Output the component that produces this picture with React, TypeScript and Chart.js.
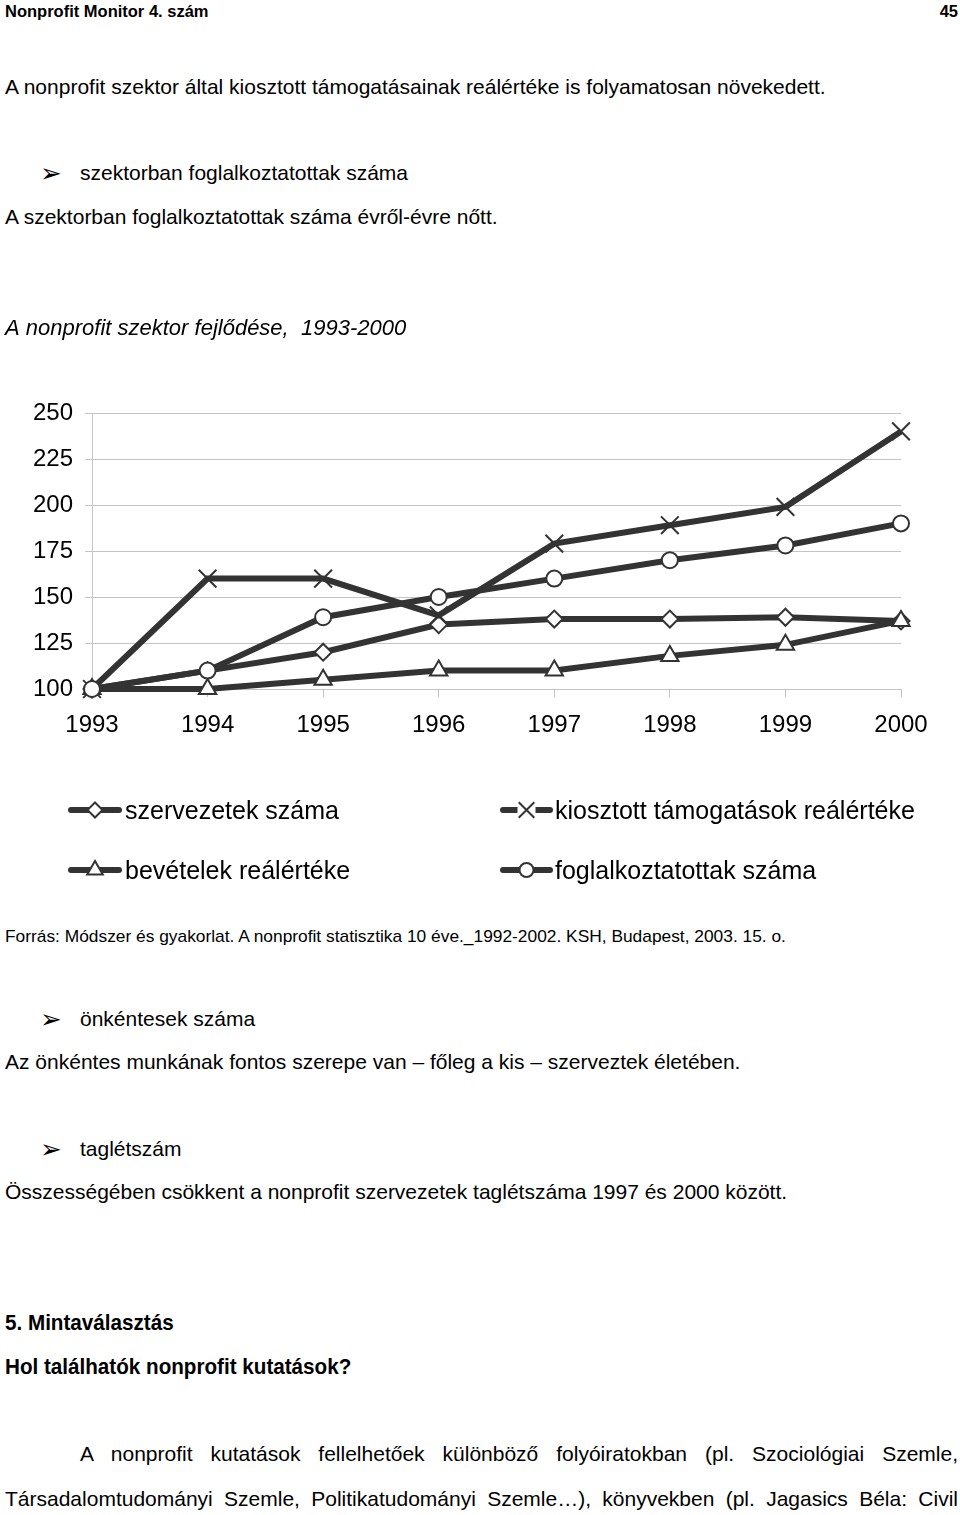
import React, { useEffect, useRef } from 'react';
import { Chart, registerables } from 'chart.js';

Chart.register(...registerables);

// ---- data ----
const years = ['1993', '1994', '1995', '1996', '1997', '1998', '1999', '2000'];
const szervezetek = [100, 110, 120, 135, 138, 138, 139, 137];
const kiosztott = [100, 160, 160, 140, 179, 189, 199, 240];
const bevetelek = [100, 100, 105, 110, 110, 118, 124, 137];
const foglalkoztatottak = [100, 110, 139, 150, 160, 170, 178, 190];
const seriesLabels = ['szervezetek száma', 'kiosztott támogatások reálértéke', 'bevételek reálértéke', 'foglalkoztatottak száma'];
const yMin = 100;
const yMax = 250;
const yStep = 25;

const FONT = "'Liberation Sans', Arial, Helvetica, sans-serif";
const INK = '#333333';
const GRID = '#c4c4c4';
const CANVAS_TOP = 300;

type MarkerStyle = 'rectRot' | 'crossRot' | 'triangle' | 'circle';

function drawMarker(ctx: CanvasRenderingContext2D, style: MarkerStyle, x: number, y: number, r: number) {
  ctx.save();
  ctx.lineWidth = 2;
  ctx.strokeStyle = INK;
  ctx.fillStyle = '#ffffff';
  ctx.beginPath();
  if (style === 'rectRot') {
    ctx.moveTo(x, y - r);
    ctx.lineTo(x + r, y);
    ctx.lineTo(x, y + r);
    ctx.lineTo(x - r, y);
    ctx.closePath();
    ctx.fill();
    ctx.stroke();
  } else if (style === 'triangle') {
    ctx.moveTo(x, y - r);
    ctx.lineTo(x + r * 0.866, y + r * 0.5);
    ctx.lineTo(x - r * 0.866, y + r * 0.5);
    ctx.closePath();
    ctx.fill();
    ctx.stroke();
  } else if (style === 'circle') {
    ctx.arc(x, y, r, 0, Math.PI * 2);
    ctx.fill();
    ctx.stroke();
  } else {
    const d = r * Math.SQRT1_2;
    ctx.moveTo(x - d, y - d);
    ctx.lineTo(x + d, y + d);
    ctx.moveTo(x + d, y - d);
    ctx.lineTo(x - d, y + d);
    ctx.stroke();
  }
  ctx.restore();
}

const legendItems: { label: string; style: MarkerStyle; r: number; x1: number; x2: number; y: number; tx: number }[] = [
  { label: seriesLabels[0], style: 'rectRot', r: 7.5, x1: 71, x2: 119, y: 810, tx: 125 },
  { label: seriesLabels[1], style: 'crossRot', r: 11, x1: 503, x2: 550, y: 810, tx: 555 },
  { label: seriesLabels[2], style: 'triangle', r: 9, x1: 71, x2: 119, y: 870, tx: 125 },
  { label: seriesLabels[3], style: 'circle', r: 7, x1: 503, x2: 550, y: 870, tx: 555 },
];

const legendPlugin = {
  id: 'customLegend',
  afterDraw(chart: any) {
    const ctx: CanvasRenderingContext2D = chart.ctx;
    legendItems.forEach((it) => {
      const y = it.y - CANVAS_TOP;
      ctx.save();
      ctx.strokeStyle = INK;
      ctx.lineWidth = 6;
      ctx.lineCap = 'round';
      ctx.beginPath();
      ctx.moveTo(it.x1, y);
      ctx.lineTo(it.x2, y);
      ctx.stroke();
      ctx.restore();
      const cx = (it.x1 + it.x2) / 2;
      if (it.style === 'crossRot') {
        ctx.save();
        ctx.fillStyle = '#ffffff';
        ctx.fillRect(cx - 9, y - 5, 18, 10);
        ctx.restore();
      }
      drawMarker(ctx, it.style, cx, y, it.r);
      ctx.save();
      ctx.fillStyle = '#000';
      ctx.font = `25px ${FONT}`;
      ctx.textBaseline = 'middle';
      ctx.textAlign = 'left';
      ctx.fillText(it.label, it.tx, y + 2);
      ctx.restore();
    });
  },
};

function LineChart() {
  const ref = useRef<HTMLCanvasElement | null>(null);
  useEffect(() => {
    if (!ref.current) return;
    const mk = (label: string, data: number[], style: MarkerStyle, r: number, order: number) => ({
      label,
      data,
      borderColor: INK,
      borderWidth: 6,
      tension: 0,
      clip: false,
      pointStyle: style,
      pointRadius: r,
      pointHoverRadius: r,
      pointBackgroundColor: '#ffffff',
      pointBorderColor: INK,
      pointBorderWidth: 2,
      order,
    });
    const chart = new Chart(ref.current, {
      type: 'line',
      data: {
        labels: years,
        datasets: [
          mk(seriesLabels[0], szervezetek, 'rectRot', 8.5, 4),
          mk(seriesLabels[1], kiosztott, 'crossRot', 12.5, 3),
          mk(seriesLabels[2], bevetelek, 'triangle', 10, 2),
          mk(seriesLabels[3], foglalkoztatottak, 'circle', 8, 1),
        ] as any,
      },
      options: {
        responsive: false,
        animation: false,
        devicePixelRatio: 1,
        layout: { padding: { left: 5, right: 59, top: 0, bottom: 161 } },
        plugins: {
          legend: { display: false },
          tooltip: { enabled: false },
          title: {
            display: true,
            text: 'A nonprofit szektor fejlődése,  1993-2000',
            align: 'start',
            color: '#000',
            font: { family: FONT, size: 22, style: 'italic', weight: 'normal' },
            padding: { top: 16, bottom: 70.6 },
          },
        },
        scales: {
          x: {
            offset: false,
            grid: { display: true, drawOnChartArea: false, drawTicks: true, tickLength: 8, color: GRID },
            border: { display: true, color: GRID },
            ticks: { color: '#000', font: { family: FONT, size: 24 }, padding: 14, autoSkip: false, maxRotation: 0 },
            afterFit: (s: any) => { s.height = 50; },
          },
          y: {
            min: yMin,
            max: yMax,
            ticks: { stepSize: yStep, color: '#000', font: { family: FONT, size: 24 }, padding: 12 },
            grid: { color: GRID, lineWidth: 1, drawTicks: true, tickLength: 7 },
            border: { display: true, color: GRID },
            afterFit: (s: any) => { s.width = 87; },
          },
        },
      } as any,
      plugins: [legendPlugin],
    });
    return () => chart.destroy();
  }, []);
  return (
    <canvas
      ref={ref}
      width={960}
      height={600}
      style={{ position: 'absolute', left: 0, top: CANVAS_TOP, width: 960, height: 600 }}
    />
  );
}

function T(props: { y: number; x?: number; size?: number; bold?: boolean; italic?: boolean; children: React.ReactNode; w?: number; lh?: number; justify?: boolean; right?: number; sx?: number }) {
  const size = props.size ?? 21;
  const lh = props.lh ?? 30;
  const style: React.CSSProperties = {
    position: 'absolute',
    top: props.y - lh / 2 - 1,
    fontSize: size,
    lineHeight: `${lh}px`,
    fontWeight: props.bold ? 'bold' : 'normal',
    fontStyle: props.italic ? 'italic' : 'normal',
    whiteSpace: 'nowrap',
  };
  if (props.right !== undefined) {
    style.right = props.right;
  } else {
    style.left = props.x ?? 5;
  }
  if (props.sx) {
    style.transform = `scaleX(${props.sx})`;
    style.transformOrigin = 'left center';
  }
  if (props.justify) {
    style.width = props.w;
    style.textAlign = 'justify';
    style.textAlignLast = 'justify';
    style.whiteSpace = 'normal';
  }
  return <div style={style}>{props.children}</div>;
}

function Bullet(props: { y: number; children: React.ReactNode }) {
  return (
    <>
      <div style={{ position: 'absolute', left: 40, top: props.y - 18, fontSize: 26, lineHeight: '34px', fontFamily: "'DejaVu Sans', sans-serif" }}>➢</div>
      <T y={props.y} x={80}>{props.children}</T>
    </>
  );
}

export default function App() {
  return (
    <div style={{ position: 'absolute', left: 0, top: 0, width: 960, height: 1515, background: '#fff', overflow: 'hidden', fontFamily: FONT, color: '#000' }}>
      <T y={12} size={16.5} bold lh={22}>Nonprofit Monitor 4. szám</T>
      <T y={12} size={16.5} bold lh={22} right={2}>45</T>
      <T y={88}>A nonprofit szektor által kiosztott támogatásainak reálértéke is folyamatosan növekedett.</T>
      <Bullet y={174}>szektorban foglalkoztatottak száma</Bullet>
      <T y={218}>A szektorban foglalkoztatottak száma évről-évre nőtt.</T>
      <LineChart />
      <T y={937} size={17.35}>Forrás: Módszer és gyakorlat. A nonprofit statisztika 10 éve._1992-2002. KSH, Budapest, 2003. 15. o.</T>
      <Bullet y={1020}>önkéntesek száma</Bullet>
      <T y={1063}>Az önkéntes munkának fontos szerepe van – főleg a kis – szerveztek életében.</T>
      <Bullet y={1150}>taglétszám</Bullet>
      <T y={1193}>Összességében csökkent a nonprofit szervezetek taglétszáma 1997 és 2000 között.</T>
      <T y={1324} bold size={22} sx={0.938}>5. Mintaválasztás</T>
      <T y={1368} bold size={22} sx={0.938}>Hol találhatók nonprofit kutatások?</T>
      <T y={1455} x={80} justify w={878}>A nonprofit kutatások fellelhetőek különböző folyóiratokban (pl. Szociológiai Szemle,</T>
      <T y={1500} x={5} justify w={953}>Társadalomtudományi Szemle, Politikatudományi Szemle…), könyvekben (pl. Jagasics Béla: Civil</T>
    </div>
  );
}
